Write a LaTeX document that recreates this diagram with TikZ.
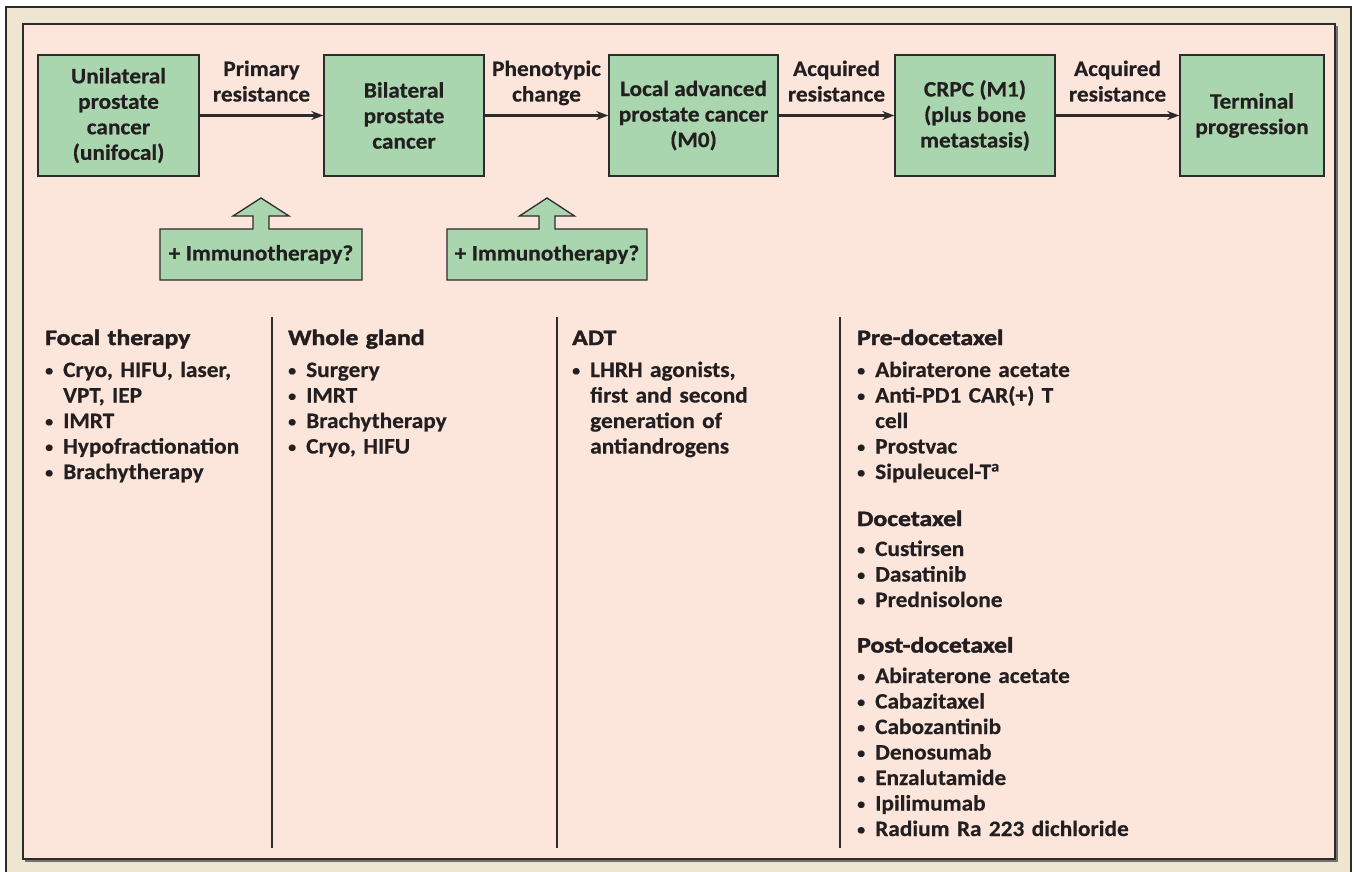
\documentclass[tikz,border=0pt]{standalone}
\usepackage{fontspec}
\IfFontExistsTF{Carlito-Bold.ttf}{%
  \setmainfont{Carlito}[Extension=.ttf, UprightFont=*-Regular, BoldFont=*-Bold,
    BoldFeatures={FakeBold=0.5, FakeStretch=1.06}]
  \newfontfamily\hdrbase{Carlito-Bold.ttf}[FakeBold=2, FakeStretch=1.17]
  \newcommand{\hdrsel}{\hdrbase}
}{%
  \setmainfont{Carlito}[BoldFeatures={FakeBold=0.5, FakeStretch=1.06}]
  \newfontfamily\hdrbase{Carlito}[BoldFeatures={FakeBold=2, FakeStretch=1.17}]
  \newcommand{\hdrsel}{\hdrbase\bfseries}
}
\usetikzlibrary{arrows.meta}
\definecolor{beige}{HTML}{EEE6D0}
\definecolor{pinkbg}{HTML}{FCE5DB}
\definecolor{boxgreen}{HTML}{A9D6AE}
\definecolor{ink}{HTML}{231F20}
\definecolor{edge}{HTML}{2E2B2C}
\newcommand{\bul}{\raisebox{1.5pt}{\fontsize{15}{15}\selectfont •}}
\newcommand{\itm}[1]{\par\hangindent=18pt\hangafter=1\noindent\makebox[18pt][l]{\bul}#1\par}
\newcommand{\cont}[1]{\par\noindent\hspace*{18pt}#1\par}
\newcommand{\hdr}[1]{\noindent{\hdrsel #1}\par}
\newcommand{\bodyfont}{\bfseries\fontsize{22}{25.5}\selectfont}
\tikzset{
  stage/.style={draw=edge, line width=1.4pt, fill=boxgreen, inner sep=0pt, align=center,
    font=\bodyfont, text=ink},
  flowarrow/.style={-{Stealth[length=12pt,width=9pt]}, line width=2.2pt, draw=edge},
  arrowlabel/.style={anchor=base, text width=130pt, align=center, inner sep=0pt,
    font=\bodyfont, text=ink},
  immuno/.style={draw=edge, line width=1.3pt, fill=boxgreen},
  immunotext/.style={inner sep=0pt, font=\bodyfont, text=ink},
  column/.style={anchor=base west, text width=280pt, inner sep=0pt,
    font=\bodyfont, text=ink},
  divider/.style={draw=edge, line width=1.1pt}
}
\begin{document}
\begin{tikzpicture}[x=1pt,y=-1pt]
\useasboundingbox (0,0) rectangle (1354,872);
\clip (0,0) rectangle (1354,872);
% frames
\draw[draw=edge, line width=1.5pt, fill=beige] (6,7) rectangle (1351,895);
\fill[black!55] (25,26) rectangle (1337.5,861.5);
\draw[draw=edge, line width=2pt, fill=pinkbg] (23,24) rectangle (1335,859);

% stage boxes
\node[stage, minimum width=161pt, minimum height=121pt] (b1) at (118.5,115.5) {Unilateral\\prostate\\cancer\\(unifocal)};
\node[stage, minimum width=160pt, minimum height=121pt] (b2) at (404,115.5) {Bilateral\\prostate\\cancer};
\node[stage, minimum width=169pt, minimum height=121pt] (b3) at (693.5,115.5) {Local advanced\\prostate cancer\\(M0)};
\node[stage, minimum width=160pt, minimum height=121pt] (b4) at (975,115.5) {CRPC (M1)\\(plus bone\\metastasis)};
\node[stage, minimum width=144pt, minimum height=121pt] (b5) at (1252,115.5) {Terminal\\progression};

% arrows
\draw[flowarrow] (b1.east) -- (b2.west);
\draw[flowarrow] (b2.east) -- (b3.west);
\draw[flowarrow] (b3.east) -- (b4.west);
\draw[flowarrow] (b4.east) -- (b5.west);

% arrow labels
\node[arrowlabel] (l1) at (261.5,76) {Primary\\resistance};
\node[arrowlabel] (l2) at (546.5,76) {Phenotypic\\change};
\node[arrowlabel] (l3) at (836.5,76) {Acquired\\resistance};
\node[arrowlabel] (l4) at (1117.5,76) {Acquired\\resistance};

% immunotherapy arrow boxes
\draw[immuno] (160,229) -- (253,229) -- (253,216) -- (233,216) -- (261,198) -- (289,216)
  -- (269,216) -- (269,229) -- (362,229) -- (362,280) -- (160,280) -- cycle;
\node[immunotext] (imm1) at (261,254.5) {+ Immunotherapy?};
\draw[immuno] (447,229) -- (539,229) -- (539,216) -- (519.5,216) -- (547,198) -- (574.5,216)
  -- (555,216) -- (555,229) -- (647,229) -- (647,280) -- (447,280) -- cycle;
\node[immunotext] (imm2) at (547,254.5) {+ Immunotherapy?};

% dividers
\draw[divider] (272,317) -- (272,848);
\draw[divider] (557,317) -- (557,848);
\draw[divider] (840,317) -- (840,848);

% columns
\node[column] (focal) at (45,345) {\hdr{Focal therapy}\vspace{6.5pt}%
  \itm{Cryo, HIFU, laser,}\cont{VPT, IEP}\itm{IMRT}\itm{Hypofractionation}\itm{Brachytherapy}};
\node[column] (whole) at (288,345) {\hdr{Whole gland}\vspace{6.5pt}%
  \itm{Surgery}\itm{IMRT}\itm{Brachytherapy}\itm{Cryo, HIFU}};
\node[column] (adt) at (572,345) {\hdr{ADT}\vspace{6.5pt}%
  \itm{LHRH agonists,}\cont{first and second}\cont{generation of}\cont{antiandrogens}};
\node[column] (crpc) at (857,345) {\hdr{Pre-docetaxel}\vspace{6.5pt}%
  \itm{Abiraterone acetate}\itm{Anti-PD1 CAR(+) T}\cont{cell}\itm{Prostvac}\itm{Sipuleucel-T\textsuperscript{a}}%
  \vspace{21.5pt}\hdr{Docetaxel}\vspace{4.5pt}%
  \itm{Custirsen}\itm{Dasatinib}\itm{Prednisolone}%
  \vspace{20pt}\hdr{Post-docetaxel}\vspace{5pt}%
  \itm{Abiraterone acetate}\itm{Cabazitaxel}\itm{Cabozantinib}\itm{Denosumab}\itm{Enzalutamide}\itm{Ipilimumab}\itm{Radium Ra 223 dichloride}};
\end{tikzpicture}
\end{document}
